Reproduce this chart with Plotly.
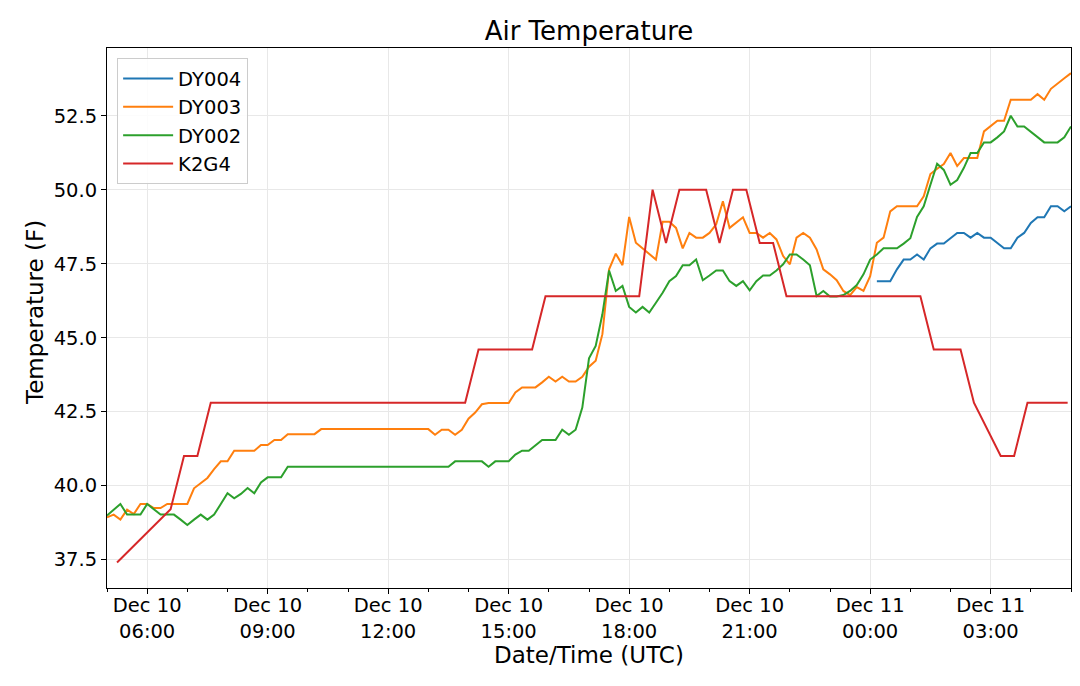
import pandas as pd
import plotly.graph_objects as go

# ---- data ----
dy_start = "2019-12-10 05:00"          # DY003 / DY002 start, 10-minute records
dy004_start = "2019-12-11 00:10"       # DY004 start, 10-minute records

dy003 = [
    38.93, 39.02, 38.85, 39.19, 39.04, 39.38, 39.38, 39.24, 39.24, 39.38,
    39.38, 39.38, 39.38, 39.91, 40.08, 40.26, 40.56, 40.82, 40.82, 41.18,
    41.18, 41.18, 41.18, 41.37, 41.37, 41.54, 41.54, 41.74, 41.74, 41.74,
    41.74, 41.74, 41.91, 41.91, 41.91, 41.91, 41.91, 41.91, 41.91, 41.91,
    41.91, 41.91, 41.91, 41.91, 41.91, 41.91, 41.91, 41.91, 41.91, 41.72,
    41.89, 41.89, 41.72, 41.89, 42.26, 42.47, 42.75, 42.79, 42.79, 42.79,
    42.79, 43.15, 43.32, 43.32, 43.32, 43.49, 43.68, 43.52, 43.68, 43.52,
    43.52, 43.68, 44.02, 44.22, 45.12, 47.31, 47.84, 47.45, 49.08, 48.21,
    48.02, 47.81, 47.64, 48.92, 48.92, 48.71, 48.02, 48.54, 48.38, 48.38,
    48.54, 48.83, 49.61, 48.71, 48.88, 49.07, 48.54, 48.54, 48.38, 48.54,
    48.32, 47.76, 47.48, 48.38, 48.54, 48.38, 47.98, 47.31, 47.14, 46.94,
    46.58, 46.44, 46.71, 46.58, 47.08, 48.21, 48.38, 49.27, 49.44, 49.44,
    49.44, 49.44, 49.78, 50.53, 50.71, 50.87, 51.24, 50.80, 51.07, 51.07,
    51.07, 51.97, 52.16, 52.33, 52.33, 53.04, 53.04, 53.04, 53.04, 53.23,
    53.04, 53.41, 53.60, 53.77, 53.94,
]

dy002 = [
    38.99, 39.20, 39.38, 39.02, 39.02, 39.02, 39.38, 39.19, 39.02, 39.02,
    39.02, 38.85, 38.67, 38.85, 39.02, 38.85, 39.02, 39.38, 39.74, 39.57,
    39.72, 39.92, 39.74, 40.11, 40.28, 40.28, 40.28, 40.64, 40.64, 40.64,
    40.64, 40.64, 40.64, 40.64, 40.64, 40.64, 40.64, 40.64, 40.64, 40.64,
    40.64, 40.64, 40.64, 40.64, 40.64, 40.64, 40.64, 40.64, 40.64, 40.64,
    40.64, 40.64, 40.82, 40.82, 40.82, 40.82, 40.82, 40.64, 40.82, 40.82,
    40.82, 41.05, 41.18, 41.18, 41.35, 41.54, 41.54, 41.54, 41.89, 41.72,
    41.89, 42.64, 44.30, 44.72, 45.79, 47.27, 46.58, 46.75, 46.04, 45.85,
    46.04, 45.85, 46.18, 46.52, 46.91, 47.08, 47.45, 47.45, 47.64, 46.94,
    47.10, 47.27, 47.27, 46.91, 46.75, 46.91, 46.60, 46.91, 47.10, 47.10,
    47.27, 47.48, 47.81, 47.81, 47.64, 47.45, 46.41, 46.58, 46.39, 46.39,
    46.44, 46.58, 46.78, 47.14, 47.64, 47.81, 48.02, 48.02, 48.02, 48.18,
    48.36, 49.08, 49.44, 50.17, 50.88, 50.67, 50.17, 50.33, 50.74, 51.24,
    51.24, 51.60, 51.60, 51.77, 51.97, 52.50, 52.14, 52.14, 51.97, 51.77,
    51.60, 51.60, 51.60, 51.77, 52.14,
]

dy004 = [
    46.91, 46.91, 46.91, 47.31, 47.64, 47.64, 47.81, 47.64, 48.02, 48.18,
    48.18, 48.36, 48.54, 48.54, 48.38, 48.54, 48.38, 48.38, 48.21, 48.02,
    48.02, 48.38, 48.54, 48.88, 49.07, 49.07, 49.44, 49.44, 49.27, 49.44,
]

k2g4_times = [
    "2019-12-10 05:15", "2019-12-10 06:35", "2019-12-10 06:55", "2019-12-10 07:15",
    "2019-12-10 07:35", "2019-12-10 13:55", "2019-12-10 14:15", "2019-12-10 15:35",
    "2019-12-10 15:55", "2019-12-10 18:15", "2019-12-10 18:35", "2019-12-10 18:55",
    "2019-12-10 19:15", "2019-12-10 19:55", "2019-12-10 20:15", "2019-12-10 20:35",
    "2019-12-10 20:55", "2019-12-10 21:15", "2019-12-10 21:35", "2019-12-10 21:55",
    "2019-12-11 01:15", "2019-12-11 01:35", "2019-12-11 02:15", "2019-12-11 02:35",
    "2019-12-11 03:15", "2019-12-11 03:35", "2019-12-11 03:55", "2019-12-11 04:55",
]
k2g4 = [
    37.4, 39.2, 41.0, 41.0, 42.8, 42.8, 44.6, 44.6, 46.4, 46.4,
    50.0, 48.2, 50.0, 50.0, 48.2, 50.0, 50.0, 48.2, 48.2, 46.4,
    46.4, 44.6, 44.6, 42.8, 41.0, 41.0, 42.8, 42.8,
]

series_names = ["DY004", "DY003", "DY002", "K2G4"]
series_colors = ["#1f77b4", "#ff7f0e", "#2ca02c", "#d62728"]
y_ticks = [37.5, 40.0, 42.5, 45.0, 47.5, 50.0, 52.5]
x_range = ["2019-12-10 05:00", "2019-12-11 05:00"]

# ---- build ----
t_dy = pd.date_range(dy_start, periods=len(dy003), freq="10min")
t_dy004 = pd.date_range(dy004_start, periods=len(dy004), freq="10min")
t_k2g4 = pd.to_datetime(k2g4_times)

xs = [t_dy004, t_dy, t_dy, t_k2g4]
ys = [dy004, dy003, dy002, k2g4]

FONT = "DejaVu Sans"
W, H = 1072, 678           # page body has an 8px margin
fig = go.Figure()
for name, col, x, y in zip(series_names, series_colors, xs, ys):
    fig.add_trace(go.Scatter(x=x, y=y, mode="lines", name=name,
                             line=dict(color=col, width=2)))
# helper trace so the tick-only overlay axis is drawn
fig.add_trace(go.Scatter(x=x_range, y=[None, None], xaxis="x2", mode="lines",
                         showlegend=False, hoverinfo="skip"))

fig.update_layout(
    width=W, height=H,
    margin=dict(l=99, r=9, t=40, b=98),
    plot_bgcolor="white", paper_bgcolor="white",
    font=dict(family=FONT, color="black"),
    showlegend=True,
    title=dict(text="Air Temperature", font=dict(size=26, family=FONT, color="black"),
               x=0.5, xref="paper", xanchor="center",
               y=1 - 23 / H, yref="container", yanchor="middle"),
    legend=dict(x=0.0105, y=0.981, xanchor="left", yanchor="top",
                bgcolor="rgba(255,255,255,0.85)", bordercolor="#cccccc", borderwidth=1,
                font=dict(size=19.5, family=FONT, color="black"),
                itemwidth=50, tracegroupgap=0,
                entrywidth=130, entrywidthmode="pixels"),
    xaxis=dict(
        type="date", range=x_range,
        dtick=3 * 3600000, tick0="2019-12-10 00:00",
        tickformat="%b %d<br>%H:%M", ticks="",
        showgrid=True, gridcolor="#e8e8e8", gridwidth=1,
        showline=True, linecolor="black", linewidth=1, mirror=True,
        tickfont=dict(size=19.5, family=FONT, color="black"),
        zeroline=False,
    ),
    xaxis2=dict(
        type="date", range=x_range, overlaying="x", anchor="y", side="bottom",
        dtick=3 * 3600000, tick0="2019-12-10 00:00",
        ticks="outside", ticklen=5, tickcolor="black", tickwidth=1,
        minor=dict(dtick=3600000, ticks="outside", ticklen=3, tickcolor="black", showgrid=False),
        showticklabels=False, showgrid=False, showline=False, zeroline=False,
    ),
    yaxis=dict(
        range=[36.54, 54.79],
        tickvals=y_ticks, ticktext=[f"{v:.1f}" for v in y_ticks],
        ticks="outside", ticklen=5, tickcolor="black", tickwidth=1,
        showgrid=True, gridcolor="#e8e8e8", gridwidth=1,
        showline=True, linecolor="black", linewidth=1, mirror=True,
        tickfont=dict(size=19.5, family=FONT, color="black"),
        zeroline=False,
    ),
)

fig.add_annotation(text="Date/Time (UTC)", xref="paper", yref="paper",
                   x=0.5, y=-67 / 540, xanchor="center", yanchor="middle",
                   showarrow=False, font=dict(size=23, family=FONT, color="black"))
fig.add_annotation(text="Temperature (F)", xref="paper", yref="paper",
                   x=-72 / 964, y=275 / 540, xanchor="center", yanchor="middle",
                   textangle=-90, showarrow=False,
                   font=dict(size=23, family=FONT, color="black"))

fig.write_html("out.html")
